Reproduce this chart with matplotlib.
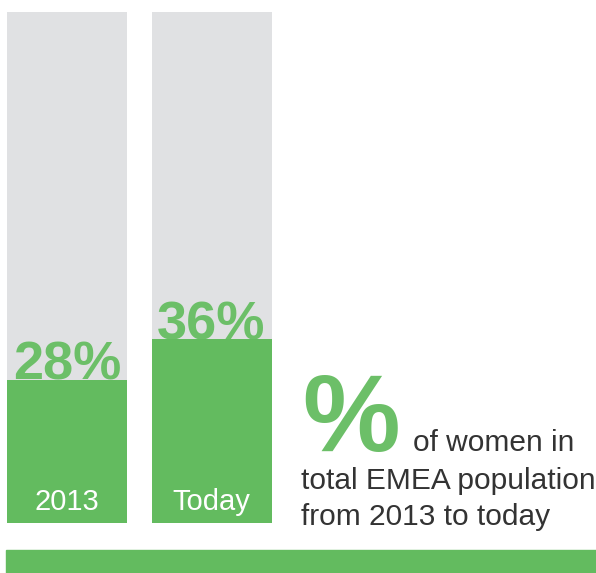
import matplotlib
matplotlib.use("Agg")
import matplotlib.pyplot as plt
from matplotlib.patches import Rectangle

# data
categorias = ["2013", "Today"]
valores = [28, 36]
rotulos = ["28%", "36%"]
texto_linhas = ["of women in", "total EMEA population", "from 2013 to today"]

verde = "#63bb5f"
verde_txt = "#6cbf68"
cinza = "#e0e1e3"
escuro = "#333333"

W, H = 596, 573
plt.rcParams["font.family"] = ["Liberation Sans", "DejaVu Sans"]
fig = plt.figure(figsize=(W / 100, H / 100), dpi=100)


def fx(px):
    return px / W


def fy(py):
    return 1 - py / H


# eixo: barra 0 centrada em x=67px, passo de 144.5px
passo = 144.5
ax = fig.add_axes([0, fy(523), 1, (523 - 12) / H])
ax.set_xlim(-67 / passo, (W - 67) / passo)
ax.set_ylim(0, 100)
ax.axis("off")

pos = list(range(len(categorias)))
larg = 120 / passo
ax.bar(pos, [100] * len(pos), width=larg, color=cinza, zorder=1)
ax.bar(pos, valores, width=larg, color=verde, zorder=3)

for x, v, r, c in zip(pos, valores, rotulos, categorias):
    ax.text(x, v, r, ha="center", va="baseline", fontsize=39,
            fontweight="bold", color=verde_txt, zorder=2)
    ax.text(x, 2.5, c, ha="center", va="baseline", fontsize=21,
            color="white", zorder=4)

# texto a direita
fig.text(fx(302), fy(451), "%", ha="left", va="baseline", fontsize=79,
         fontweight="bold", color=verde_txt)
fig.text(fx(413), fy(451), texto_linhas[0], ha="left", va="baseline",
         fontsize=21.5, color=escuro)
fig.text(fx(301), fy(489), texto_linhas[1], ha="left", va="baseline",
         fontsize=21.5, color=escuro)
fig.text(fx(301), fy(525), texto_linhas[2], ha="left", va="baseline",
         fontsize=21.5, color=escuro)

# faixa verde inferior
fig.patches.append(Rectangle((fx(6), 0), 1 - fx(6), (H - 550) / H,
                             transform=fig.transFigure, color=verde))

plt.savefig("out.png", dpi=100)
plt.close()
